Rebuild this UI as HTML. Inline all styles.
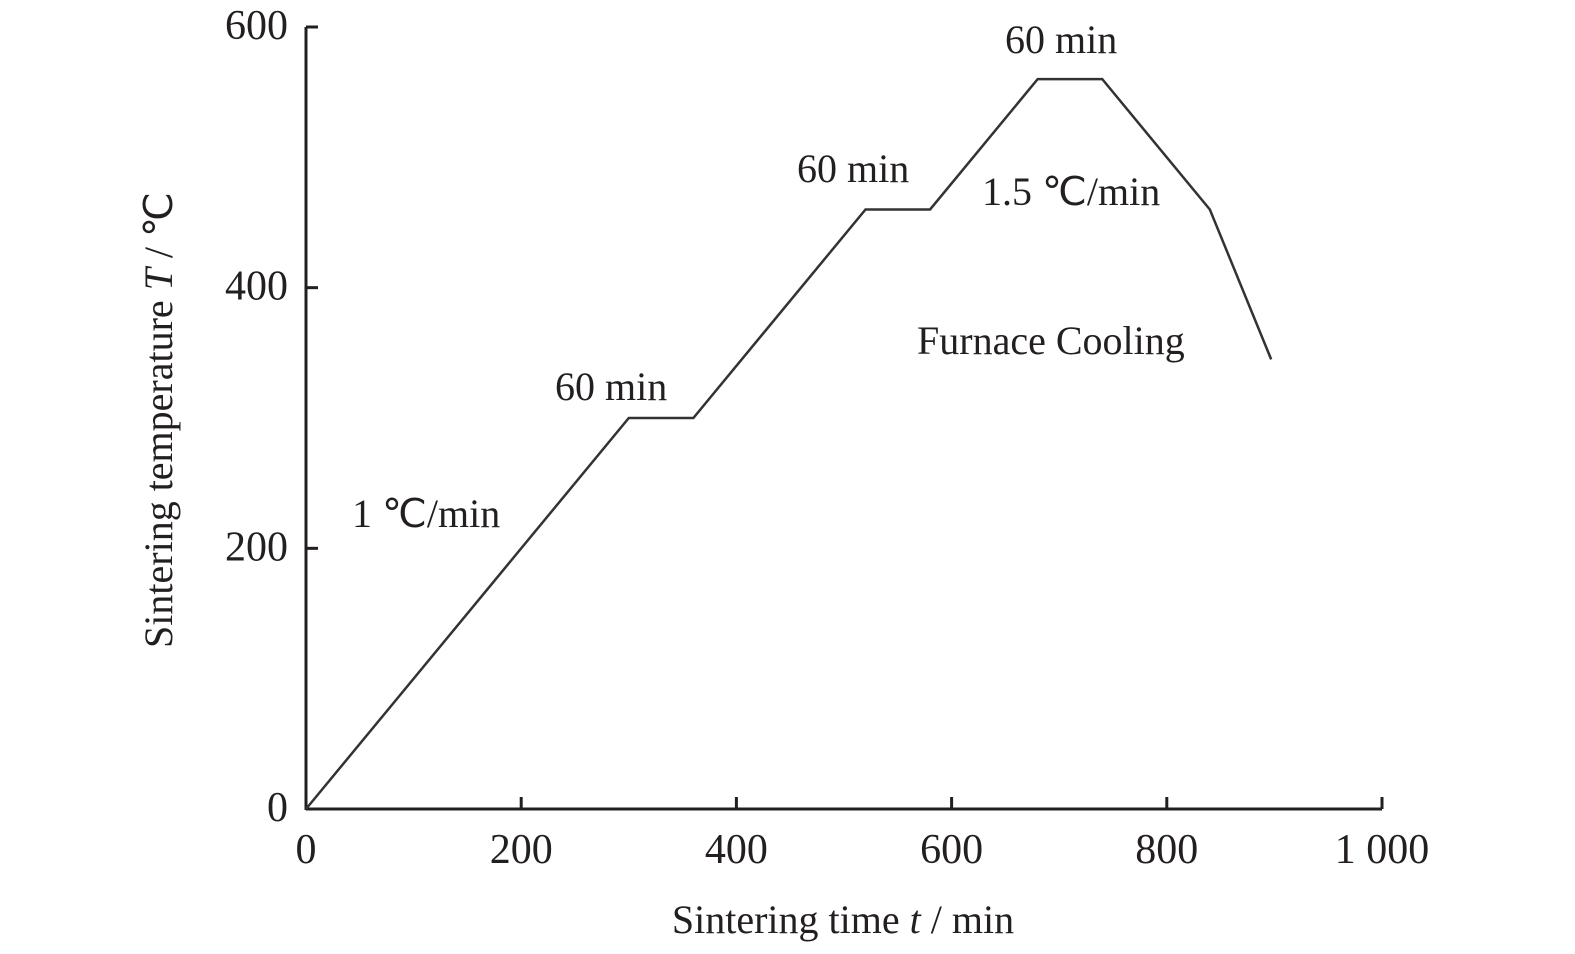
<!DOCTYPE html>
<html><head><meta charset="utf-8"><style>
body{margin:0;background:#fff}
svg{display:block}
text{font-family:"Liberation Serif",serif;fill:#231f20}
</style></head><body>
<svg width="1575" height="954">
<g id="axes"></g>
<g id="marks"></g>
<text x="620" y="53" font-size="40" transform="translate(385 0)">60 min</text>
<text x="797" y="182" font-size="40">60 min</text>
<text x="555" y="400" font-size="40">60 min</text>
<text x="352" y="527" font-size="40">1 ℃/min</text>
<text x="982" y="205" font-size="40">1.5 ℃/min</text>
<text x="917" y="354" font-size="40">Furnace Cooling</text>
<text x="843" y="933" font-size="40" text-anchor="middle">Sintering time <tspan font-style="italic">t</tspan> / min</text>
<text transform="translate(172 420) rotate(-90)" font-size="40" text-anchor="middle">Sintering temperature <tspan font-style="italic">T</tspan> / ℃</text>
</svg>
<script>
const xTicks=[0,200,400,600,800,1000];
const xTickLabels=["0","200","400","600","800","1 000"];
const yTicks=[0,200,400,600];
const yTickLabels=["0","200","400","600"];
const times=[0,300,360,520,580,680,740,840,897];
const temps=[0,300,300,460,460,560,560,460,345];
const X0=306,X1=1382,Y0=809,Y1=27;
const sx=v=>X0+(v-0)/1000*(X1-X0);
const sy=v=>Y0-(v/600)*(Y0-Y1);
const NS="http://www.w3.org/2000/svg";
const axes=document.getElementById('axes');
const marks=document.getElementById('marks');
function mk(tag,attrs,parent){const e=document.createElementNS(NS,tag);for(const k in attrs)e.setAttribute(k,attrs[k]);parent.appendChild(e);return e;}
const xa=mk('line',{x1:X0,y1:Y0,x2:X1,y2:Y0,stroke:'#231f20','stroke-width':3},axes);


const ya=mk('line',{x1:X0,y1:Y0+1,x2:X0,y2:Y1,stroke:'#231f20','stroke-width':3},axes);


xTicks.forEach((t,i)=>{
  const tk=mk('line',{x1:sx(t),y1:Y0,x2:sx(t),y2:Y0-12,stroke:'#231f20','stroke-width':3},axes);
  
  
  const tx=mk('text',{x:sx(t),y:Y0+54,'font-size':42,'text-anchor':'middle'},axes);
  tx.textContent=xTickLabels[i];
  
  
});
yTicks.forEach((t,i)=>{
  const tk=mk('line',{x1:X0,y1:sy(t),x2:X0+12,y2:sy(t),stroke:'#231f20','stroke-width':3},axes);
  
  
  const tx=mk('text',{x:X0-18,y:sy(t)+12,'font-size':42,'text-anchor':'end'},axes);
  tx.textContent=yTickLabels[i];
  
  
});
const pts=times.map((t,i)=>sx(t)+','+sy(temps[i])).join(' ');
const pl=mk('polyline',{points:pts,fill:'none',stroke:'#333','stroke-width':2.5},marks);


</script>
</body></html>
